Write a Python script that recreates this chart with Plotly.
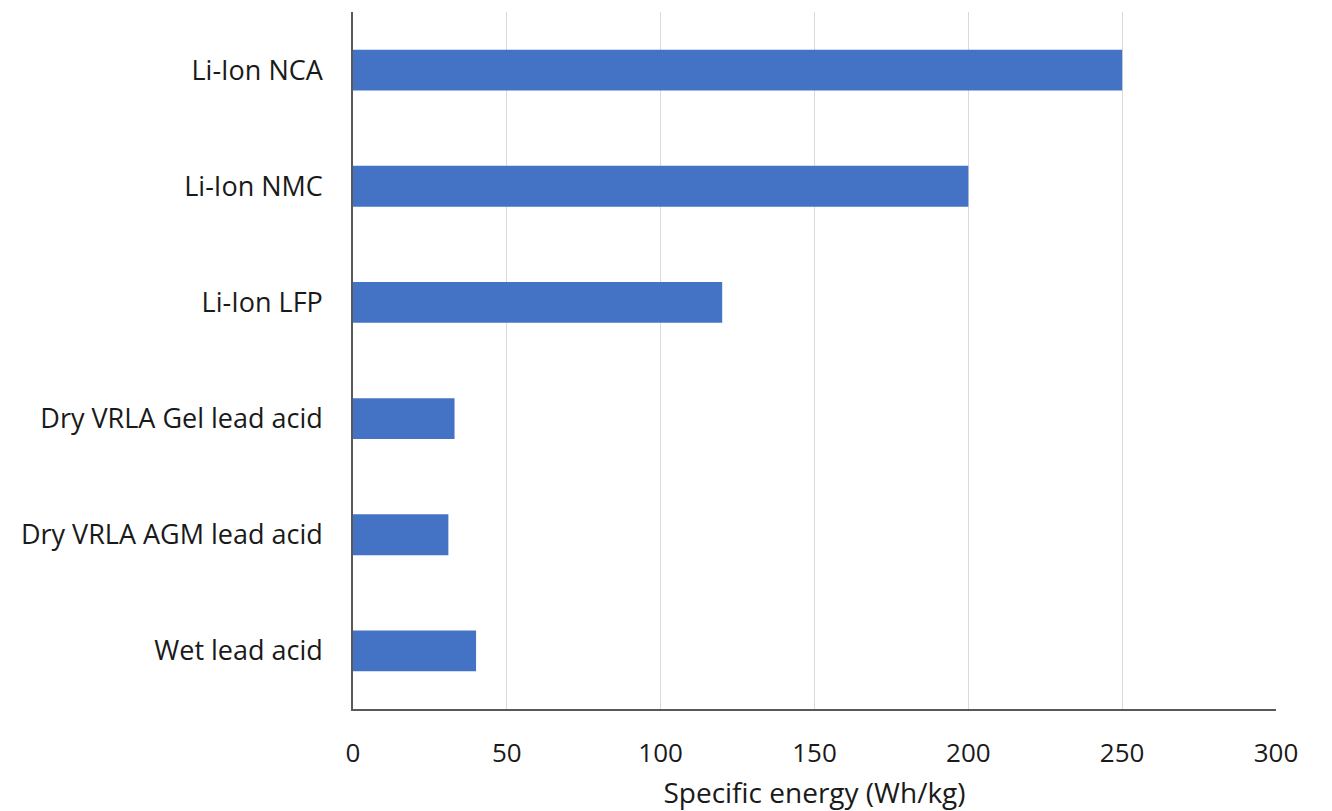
import plotly.graph_objects as go

# Battery chemistries, listed bottom-to-top as they appear on the y axis
chemistries = [
    "Wet lead acid",
    "Dry VRLA AGM lead acid",
    "Dry VRLA Gel lead acid",
    "Li-Ion LFP",
    "Li-Ion NMC",
    "Li-Ion NCA",
]
specific_energy = [40, 31, 33, 120, 200, 250]  # Wh/kg

x_ticks = [0, 50, 100, 150, 200, 250, 300]

font_family = "Open Sans, Lato, sans-serif"
text_color = "#1a1a1a"

fig = go.Figure(
    go.Bar(
        x=specific_energy,
        y=chemistries,
        orientation="h",
        marker=dict(color="#4472C4", line=dict(width=0)),
        hoverinfo="x+y",
    )
)

fig.update_layout(
    width=1332,
    height=811,
    margin=dict(l=353, r=56, t=12, b=102),
    paper_bgcolor="white",
    plot_bgcolor="white",
    bargap=0.648,
    showlegend=False,
    font=dict(family=font_family, size=26, color=text_color),
)

fig.update_xaxes(
    range=[0, 300],
    tickvals=x_ticks,
    ticktext=[str(v) for v in x_ticks],
    automargin=False,
    showgrid=True,
    gridcolor="#d9d9d9",
    gridwidth=1,
    zeroline=False,
    showline=True,
    linecolor="#595959",
    linewidth=1.5,
    ticks="",
    ticklabelstandoff=20,
    tickfont=dict(size=26, color=text_color),
    title=dict(
        text="Specific energy (Wh/kg)",
        font=dict(size=28, color=text_color),
        standoff=15,
    ),
)

fig.update_yaxes(
    automargin=False,
    showgrid=False,
    zeroline=False,
    showline=True,
    linecolor="#595959",
    linewidth=1.5,
    ticks="",
    ticklabelstandoff=23,
    tickfont=dict(size=27, color=text_color),
)

fig.write_html("out.html")
